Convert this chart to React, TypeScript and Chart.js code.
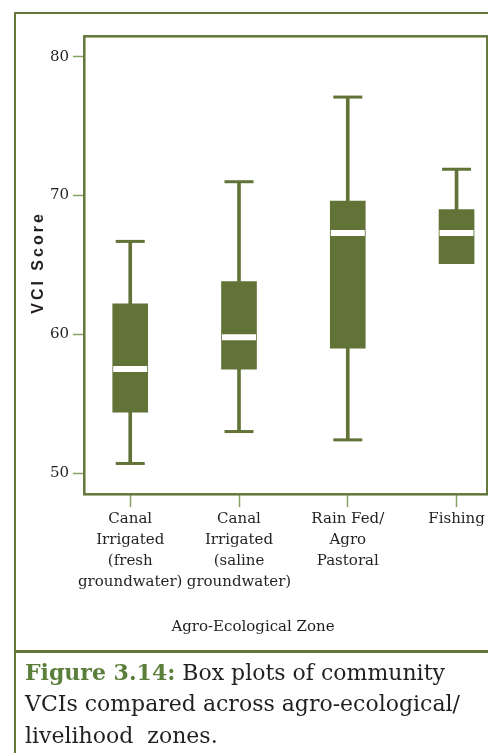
import React, { useEffect, useRef } from "react";
import { Chart, registerables } from "chart.js";

Chart.register(...registerables);

// ---- data ----
const CATEGORIES: string[][] = [
  ["Canal", "Irrigated", "(fresh", "groundwater)"],
  ["Canal", "Irrigated", "(saline", "groundwater)"],
  ["Rain Fed/", "Agro", "Pastoral"],
  ["Fishing"],
];
const WHISKER_LOW = [50.7, 53.0, 52.4, 65.1];
const Q1 = [54.4, 57.5, 59.0, 65.1];
const MEDIAN = [57.5, 59.8, 67.3, 67.3];
const Q3 = [62.2, 63.8, 69.6, 69.0];
const WHISKER_HIGH = [66.7, 71.0, 77.1, 71.9];
const Y_TICKS = [50, 60, 70, 80];
const Y_TITLE = "VCI Score";
const X_TITLE = "Agro-Ecological Zone";
const CAPTION_LABEL = "Figure 3.14:";
const CAPTION_LINES = [" Box plots of community", "VCIs compared across agro-ecological/", "livelihood  zones."];

// ---- styles ----
const GREEN = "#627338";
const FRAME = "#64773a";
const TICK = "#87a063";
const TEXT = "#231f20";
const SERIF = '"DejaVu Serif", serif';

export default function App() {
  const ref = useRef<HTMLCanvasElement | null>(null);

  useEffect(() => {
    if (!ref.current) return;
    const xs = CATEGORIES.map((_, i) => i + 1);

    const framePlugin = {
      id: "frameAndTitles",
      afterDraw(chart: any) {
        const { ctx, chartArea } = chart;
        const { left, top, right, bottom } = chartArea;
        ctx.save();
        ctx.strokeStyle = FRAME;
        ctx.lineWidth = 2.5;
        ctx.strokeRect(left + 0.3, top + 0.3, right - left, bottom - top);

        // y title
        ctx.save();
        ctx.translate(39, (top + bottom) / 2 - 1);
        ctx.rotate(-Math.PI / 2);
        ctx.fillStyle = TEXT;
        ctx.font = 'bold 16px "Liberation Sans", Arial, sans-serif';
        try {
          (ctx as any).letterSpacing = "3px";
        } catch (e) {}
        ctx.textAlign = "center";
        ctx.textBaseline = "middle";
        ctx.fillText(Y_TITLE, 1.5, 0);
        ctx.restore();

        // x title
        ctx.fillStyle = TEXT;
        ctx.font = "15px " + SERIF;
        ctx.textAlign = "center";
        ctx.textBaseline = "middle";
        ctx.fillText(X_TITLE, 253, 627);
        ctx.restore();
      },
    };

    const chart = new Chart(ref.current, {
      type: "bar",
      data: {
        datasets: [
          {
            type: "line",
            label: "median",
            data: xs.map((x, i) => ({ x, y: MEDIAN[i] })),
            showLine: false,
            pointStyle: "line",
            pointRadius: 17,
            pointHoverRadius: 17,
            pointBorderWidth: 6,
            pointBorderColor: "#ffffff",
            borderColor: "#ffffff",
            order: 0,
          },
          {
            type: "line",
            label: "upper cap",
            data: xs.map((x, i) => ({ x, y: WHISKER_HIGH[i] })),
            showLine: false,
            pointStyle: "line",
            pointRadius: 14.5,
            pointHoverRadius: 14.5,
            pointBorderWidth: 3,
            pointBorderColor: GREEN,
            borderColor: GREEN,
            order: 1,
          },
          {
            type: "line",
            label: "lower cap",
            data: xs
              .map((x, i) => ({ x, y: WHISKER_LOW[i] }))
              .filter((_, i) => WHISKER_LOW[i] < Q1[i]),
            showLine: false,
            pointStyle: "line",
            pointRadius: 14.5,
            pointHoverRadius: 14.5,
            pointBorderWidth: 3,
            pointBorderColor: GREEN,
            borderColor: GREEN,
            order: 1,
          },
          {
            type: "bar",
            label: "box",
            data: xs.map((x, i) => ({ x, y: [Q1[i], Q3[i]] })),
            backgroundColor: GREEN,
            borderWidth: 0,
            barThickness: 35,
            grouped: false,
            order: 2,
          },
          {
            type: "bar",
            label: "whisker",
            data: xs.map((x, i) => ({ x, y: [WHISKER_LOW[i], WHISKER_HIGH[i]] })),
            backgroundColor: GREEN,
            borderWidth: 0,
            barThickness: 3,
            grouped: false,
            order: 3,
          },
        ] as any,
      },
      options: {
        animation: false,
        responsive: false,
        events: [],
        layout: { autoPadding: false, padding: { left: 0, top: 36, right: 1, bottom: 0 } },
        plugins: {
          legend: { display: false },
          tooltip: { enabled: false },
        },
        scales: {
          x: {
            type: "linear",
            min: 0.575,
            max: 4.28,
            offset: false,
            grid: {
              offset: false,
              drawOnChartArea: false,
              drawTicks: true,
              tickLength: 13,
              tickColor: TICK,
              tickWidth: 1.5,
            },
            border: { display: false },
            afterBuildTicks: (s: any) => {
              s.ticks = xs.map((v) => ({ value: v }));
            },
            afterFit: (s: any) => {
              s.height = 156;
              s.paddingLeft = 0;
              s.paddingRight = 0;
            },
            ticks: {
              autoSkip: false,
              maxRotation: 0,
              padding: 2,
              color: TEXT,
              font: { family: SERIF, size: 15, lineHeight: 1.4 },
              callback: (v: any) => CATEGORIES[Math.round(Number(v)) - 1] ?? "",
            },
          },
          y: {
            type: "linear",
            min: 48.5,
            max: 81.5,
            grid: {
              drawOnChartArea: false,
              drawTicks: true,
              tickLength: 11,
              tickColor: TICK,
              tickWidth: 1.5,
            },
            border: { display: false },
            afterBuildTicks: (s: any) => {
              s.ticks = Y_TICKS.map((v) => ({ value: v }));
            },
            afterFit: (s: any) => {
              s.width = 84;
              s.paddingTop = 0;
              s.paddingBottom = 0;
            },
            ticks: {
              padding: 4,
              color: TEXT,
              font: { family: SERIF, size: 15 },
            },
          },
        },
      } as any,
      plugins: [framePlugin],
    });

    return () => chart.destroy();
  }, []);

  return (
    <div
      style={{
        position: "absolute",
        left: 0,
        top: 0,
        width: 488,
        height: 753,
        overflow: "hidden",
        background: "#ffffff",
      }}
    >
      <canvas
        ref={ref}
        width={488}
        height={650}
        style={{ position: "absolute", left: 0, top: 0, width: 488, height: 650 }}
      />
      <div
        style={{
          position: "absolute",
          left: 14,
          top: 12,
          width: 600,
          height: 900,
          borderTop: `2.5px solid ${FRAME}`,
          borderLeft: `2.5px solid ${FRAME}`,
          boxSizing: "border-box",
          pointerEvents: "none",
        }}
      />
      <div
        style={{
          position: "absolute",
          left: 14,
          top: 649.5,
          width: 480,
          height: 3,
          background: FRAME,
        }}
      />
      <div
        style={{
          position: "absolute",
          left: 25,
          top: 656.5,
          fontFamily: SERIF,
          fontSize: 22,
          lineHeight: "31.5px",
          color: TEXT,
          whiteSpace: "pre",
        }}
      >
        <span style={{ color: "#5b7e3a", fontWeight: "bold" }}>{CAPTION_LABEL}</span>
        {CAPTION_LINES[0]}
        <br />
        {CAPTION_LINES[1]}
        <br />
        {CAPTION_LINES[2]}
      </div>
    </div>
  );
}
